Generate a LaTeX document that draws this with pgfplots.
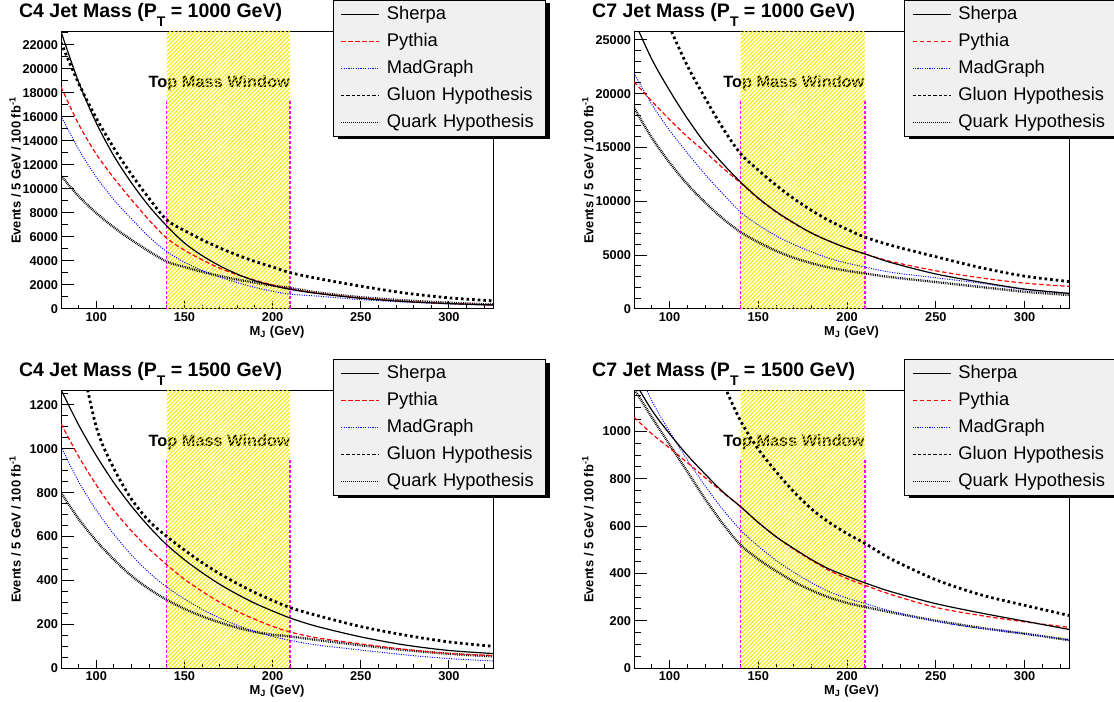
\documentclass[border=0pt]{standalone}
\usepackage{fontspec}
\setmainfont{Liberation Sans}
\usepackage{pgfplots}
\pgfplotsset{compat=1.18}
\usepackage{pgfplotstable}
\usetikzlibrary{patterns.meta}

\definecolor{legfill}{RGB}{240,240,240}
\definecolor{hatchyellow}{RGB}{245,235,0}
\definecolor{rootred}{RGB}{255,0,0}
\definecolor{rootblue}{RGB}{0,0,255}
\definecolor{rootmag}{RGB}{255,0,255}

% C4, PT = 1000 GeV
\pgfplotstableread{
x   sherpa pythia madgraph gluon quark
80  23100  18500  16100    22200 11100
90  18900  15400  13300    18800 9400
100 15500  12900  11000    15900 8000
110 12750  10900  9100     13400 6800
120 10500  9100   7500     11200 5750
130 8550   7400   6000     9200  4800
140 6915   5900   4777     7415  3943
150 5500   4900   3900     6540  3500
160 4450   4100   3200     5770  3100
170 3600   3400   2650     5090  2750
180 2900   2850   2200     4490  2450
190 2350   2400   1800     3960  2200
200 1950   2000   1480     3500  1950
210 1637   1680   1230     3027  1750
225 1300   1330   1080     2560  1380
250 890    920    780      1900  980
275 620    640    580      1330  720
300 450    460    420      930   520
325 340    340    320      680   370
}\dataA

% C7, PT = 1000 GeV
\pgfplotstableread{
x   sherpa pythia madgraph gluon quark
80  26800  21100  21900    35000 18700
90  23200  19300  19000    30300 15900
100 20300  17600  16600    26200 13600
110 17700  16000  14500    22600 11600
120 15400  14600  12500    19600 9900
130 13500  13100  10700    16800 8400
140 11790  11700  9000     14430 7137
150 10300  10250  7800     12900 6200
160 9050   9000   6800     11500 5400
170 8000   7950   6000     10250 4750
180 7050   7050   5300     9150  4250
190 6300   6300   4700     8200  3850
200 5650   5650   4250     7400  3550
210 5120   5120   3900     6672  3300
225 4300   4400   3400     5900  2950
250 3250   3550   2900     4850  2500
275 2500   2900   2400     3850  2050
300 1850   2400   1800     3050  1600
325 1450   2100   1450     2550  1300
}\dataB

% C4, PT = 1500 GeV
\pgfplotstableread{
x   sherpa pythia madgraph gluon quark
80  1270   1115   1010     2000  800
90  1109   965    850      1480  680
100 969    835    720      1100  580
110 845    720    610      910   495
120 738    625    515      770   420
130 644    543    435      670   360
140 562    471    369      600   311
150 494    405    315      538   270
160 435    350    268      481   236
170 382    300    228      430   208
180 336    258    195      385   184
190 295    222    166      344   165
200 260    190    144      308   152
210 228    164    126      275   144
225 190    138    105      240   128
250 142    110    82       189   104
275 105    85     60       150   82
300 80     66     43       119   65
325 66     57     32       99    53
}\dataC

% C7, PT = 1500 GeV
\pgfplotstableread{
x   sherpa pythia madgraph gluon quark
80  1215   1060   1300     2700  1180
90  1090   990    1130     2300  1060
100 990    930    1000     1960  945
110 900    868    880      1660  830
120 820    805    770      1420  715
130 745    742    670      1210  610
140 682    682    583      1045  520
150 615    615    515      925   460
160 555    555    455      830   410
170 505    502    405      745   365
180 458    455    360      672   328
190 418    412    322      615   298
200 388    378    295      568   275
210 360    350    273      527   258
225 322    310    240      460   235
250 272    256    197      373   200
275 233    222    168      310   170
300 198    195    145      265   145
325 163    172    118      222   118
}\dataD

\pgfplotsset{
  panel/.style={
    scale only axis, height=138.65bp,
    xmin=80, xmax=325, ymin=0, enlargelimits=false,
    axis line style={line width=0.5bp},
    every tick/.style={black, line width=0.5bp},
    tick pos=left, tick align=inside,
    xtick={100,150,200,250,300},
    minor xtick={80,90,...,320},
    xtick style={/pgfplots/major tick length=3.8bp, /pgfplots/minor tick length=2bp},
    ytick style={/pgfplots/major tick length=6.5bp, /pgfplots/minor tick length=3.3bp},
    scaled y ticks=false,
    /pgf/number format/.cd, assume math mode=true, 1000 sep={}, /pgfplots/.cd,
    ticklabel style={font=\fontsize{6.4}{7}\selectfont\bfseries},
    yticklabel style={inner sep=1.3bp},
    xticklabel style={inner sep=1.5bp},
    xlabel={M\textsubscript{J} (GeV)},
    ylabel={Events / 5 GeV / 100 fb\textsuperscript{-1}},
    xlabel style={font=\fontsize{6.5}{7}\selectfont\bfseries, at={(axis description cs:0.5,0)}, anchor=center, yshift=-11.4bp},
    ylabel style={font=\fontsize{6.5}{7}\selectfont\bfseries, at={(axis description cs:-0.106,0.5)}, anchor=center},
    every axis title shift=0pt,
    title style={font=\fontsize{9.8}{11}\selectfont\bfseries, at={(axis description cs:-0.098,1.05)}, anchor=base west, inner sep=0pt},
    legend cell align=left,
    legend image code/.code={%
      \begin{scope}[##1]
        \pgfpathmoveto{\pgfqpoint{0bp}{0bp}}%
        \pgfpathlineto{\pgfqpoint{19bp}{0bp}}%
        \pgfusepath{stroke}%
      \end{scope}},
    legend style={
      draw=black, line width=0.5bp, fill=legfill,
      font=\fontsize{9.2}{11}\selectfont,
      anchor=north west,
      inner xsep=3.5bp, inner ysep=2.5bp,
      row sep=4.7bp,
      nodes={inner sep=0pt, text height=6.8bp, text depth=2bp},
      /tikz/every even column/.append style={text width=76bp},
      /tikz/every odd column/.append style={column sep=3.5bp},
    },
    no markers,
  },
}

\newcommand{\window}[1]{%
  \node[anchor=base east, inner sep=0pt, font=\fontsize{8.2}{9}\selectfont\bfseries] at (rel axis cs:0.5306,0.8) {Top Mass Window};
  \addplot[draw=none, pattern={Lines[angle=45,distance=1.45bp,line width=0.55bp]}, pattern color=hatchyellow, forget plot]
    coordinates {(140,0) (140,100000) (210,100000) (210,0)} -- cycle;
  \addplot[rootmag, line width=0.6bp, dash pattern=on 1.5bp off 1bp, forget plot] coordinates {(140,0) (140,#1)};
  \addplot[rootmag, line width=0.9bp, dash pattern=on 1.5bp off 1bp, forget plot] coordinates {(210,0) (210,#1)};
}
\newcommand{\curves}[1]{%
  \addplot[black, line width=1.2bp, dash pattern=on 0.4bp off 0.5bp, smooth, forget plot] table[x=x,y=quark] {#1};
  \addplot[black, line width=1.4bp, dash pattern=on 1.3bp off 1.5bp, smooth, forget plot] table[x=x,y=gluon] {#1};
  \addplot[rootblue, line width=0.5bp, dash pattern=on 0.5bp off 0.7bp, smooth, forget plot] table[x=x,y=madgraph] {#1};
  \addplot[rootred, line width=0.6bp, dash pattern=on 2.2bp off 1.3bp, smooth, forget plot] table[x=x,y=pythia] {#1};
  \addplot[black, line width=0.6bp, smooth, forget plot] table[x=x,y=sherpa] {#1};
  \addlegendimage{black, line width=0.7bp, solid}\addlegendentry{Sherpa}
  \addlegendimage{rootred, line width=0.75bp, dash pattern=on 2.2bp off 1.3bp}\addlegendentry{Pythia}
  \addlegendimage{rootblue, line width=0.75bp, dash pattern=on 0.6bp off 0.6bp}\addlegendentry{MadGraph}
  \addlegendimage{black, line width=0.7bp, dash pattern=on 1.6bp off 1bp}\addlegendentry{Gluon Hypothesis}
  \addlegendimage{black, line width=0.7bp, dash pattern=on 0.4bp off 0.6bp}\addlegendentry{Quark Hypothesis}
}
\newcommand{\PT}{P\raisebox{-4.3bp}{\fontsize{7}{7}\selectfont T}}

\begin{document}
\begin{tikzpicture}
\useasboundingbox (0,0) rectangle (557bp,351bp);

% drop shadows of the four legend boxes (drawn first, beneath the legends)
\fill[black] (169bp,281.5bp) rectangle (275bp,349.3bp);
\fill[black] (454.7bp,281.5bp) rectangle (561bp,349.3bp);
\fill[black] (169bp,101.9bp) rectangle (275bp,169.7bp);
\fill[black] (454.7bp,101.9bp) rectangle (561bp,169.7bp);

\begin{axis}[panel, width=216bp, at={(30.5bp,196.5bp)}, anchor=south west,
  ymax=23100, ytick={0,2000,...,22000}, minor ytick={0,1000,...,23000},
  legend style={at={(0.6296,1.1143)}},
  title={C4 Jet Mass (\PT{} = 1000 GeV)}]
  \window{17440}
  \curves{\dataA}
\end{axis}

\begin{axis}[panel, width=217.5bp, at={(317bp,196.5bp)}, anchor=south west,
  ymax=25750, ytick={0,5000,...,25000}, minor ytick={0,1000,...,25000},
  legend style={at={(0.6214,1.1143)}},
  title style={at={(axis description cs:-0.097,1.05)}},
  title={C7 Jet Mass (\PT{} = 1000 GeV)}]
  \window{19440}
  \curves{\dataB}
\end{axis}

\begin{axis}[panel, width=216bp, at={(30.5bp,17bp)}, anchor=south west,
  ymax=1265, ytick={0,200,...,1200}, minor ytick={0,50,...,1250},
  legend style={at={(0.6296,1.1132)}},
  title={C4 Jet Mass (\PT{} = 1500 GeV)}]
  \window{955}
  \curves{\dataC}
\end{axis}

\begin{axis}[panel, width=217.5bp, at={(317bp,17bp)}, anchor=south west,
  ymax=1172, ytick={0,200,...,1000}, minor ytick={0,50,...,1150},
  legend style={at={(0.6214,1.1132)}},
  title style={at={(axis description cs:-0.097,1.05)}},
  title={C7 Jet Mass (\PT{} = 1500 GeV)}]
  \window{885}
  \curves{\dataD}
\end{axis}
\end{tikzpicture}
\end{document}
